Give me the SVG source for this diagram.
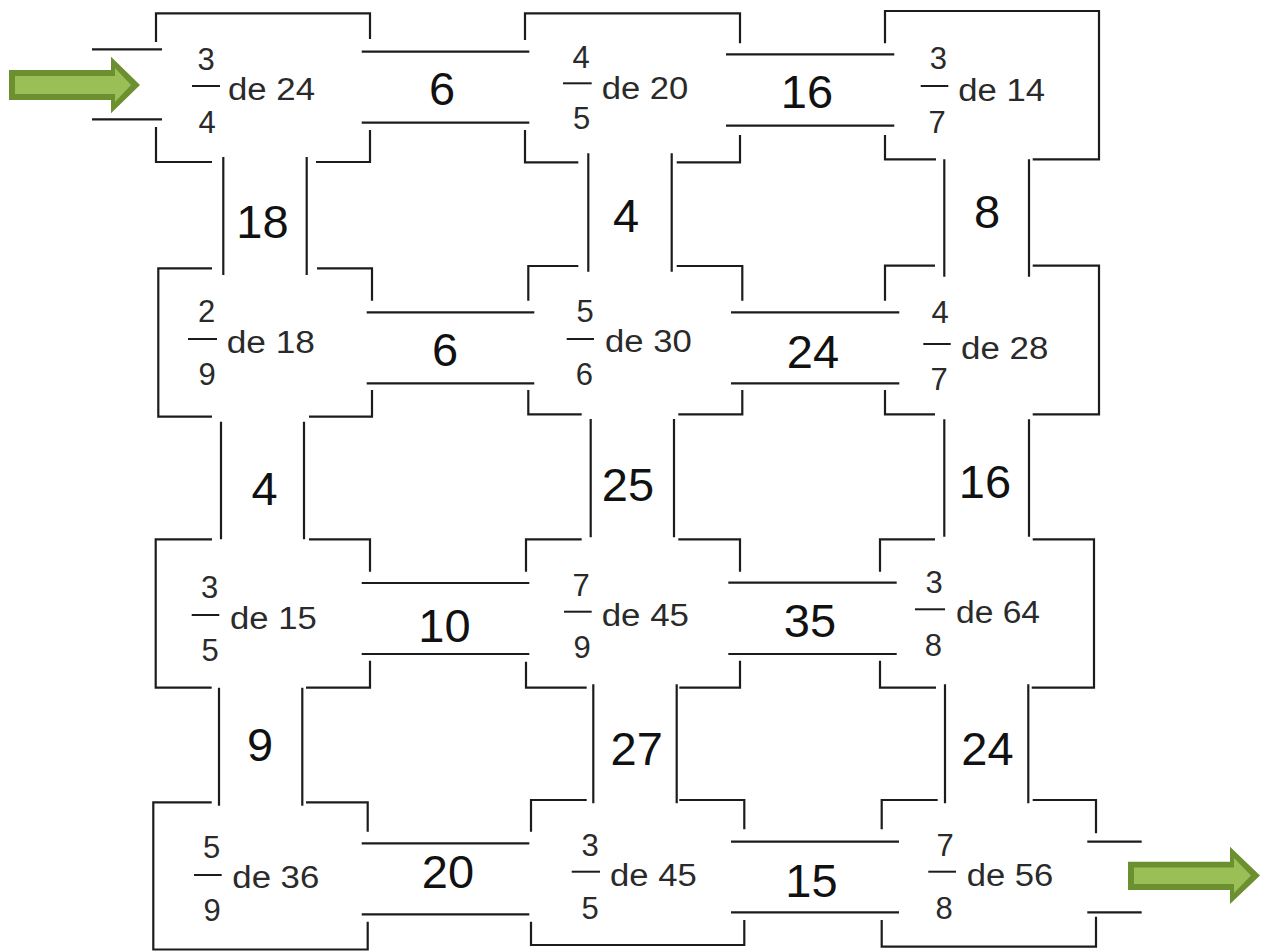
<svg xmlns="http://www.w3.org/2000/svg" width="1263" height="951" viewBox="0 0 1263 951">
<style>
.w{fill:none;stroke:#1c1c1c;stroke-width:2.2;stroke-linecap:butt;stroke-linejoin:miter}
.bar{stroke:#1c1c1c;stroke-width:2}
.n{font-family:"Liberation Sans",Arial,sans-serif;font-size:31px;fill:#2a2a2a;text-anchor:middle}
.de{font-family:"Liberation Sans",Arial,sans-serif;font-size:31px;fill:#2a2a2a}
.lbl{font-family:"Liberation Sans",Arial,sans-serif;font-size:47px;fill:#111;text-anchor:middle}
.aout{fill:#6c902f}
.ain{fill:#9bbf57}
</style>
<rect width="1263" height="951" fill="#ffffff"/>

<g id="arrow-in">
<polygon class="aout" points="9,70 111,70 111,56.7 140,85 111,113.3 111,100 9,100"/>
<polygon class="ain" points="15,76 115,76 115,68 131,85 115,102 115,94 15,94"/>
</g>
<g id="arrow-out">
<polygon class="aout" points="1128,861.7 1230,861.7 1230,846.7 1260,875.5 1230,904 1230,890 1128,890"/>
<polygon class="ain" points="1134,867.5 1234,867.5 1234,858 1251,875.5 1234,893 1234,884 1134,884"/>
</g>

<g id="room-r0c0">
<path class="w" d="M156,42 V13.3 H370 V39 M156,127 V162 H212 M316,162 H370 V130"/>
<text class="n" x="206" y="70">3</text>
<line class="bar" x1="192" y1="86" x2="220" y2="86"/>
<text class="n" x="207" y="133">4</text>
<text class="de" x="228" y="100" textLength="87" lengthAdjust="spacingAndGlyphs">de 24</text>
</g>
<g id="room-r0c1">
<path class="w" d="M525,40 V13.3 H740 V43.3 M525,130 V162.3 H578.3 M676.7,162.3 H740 V135"/>
<text class="n" x="581" y="67.5">4</text>
<line class="bar" x1="563" y1="83.3" x2="591.7" y2="83.3"/>
<text class="n" x="581.5" y="129">5</text>
<text class="de" x="601.7" y="99.3" textLength="86.6" lengthAdjust="spacingAndGlyphs">de 20</text>
</g>
<g id="room-r0c2">
<path class="w" d="M885,43.3 V11 H1099 V159.3 H1032.7 M885,135 V159.3 H936"/>
<text class="n" x="938.3" y="69">3</text>
<line class="bar" x1="920.7" y1="86" x2="948.3" y2="86"/>
<text class="n" x="937" y="132.5">7</text>
<text class="de" x="958.3" y="101" textLength="86.7" lengthAdjust="spacingAndGlyphs">de 14</text>
</g>

<g id="room-r1c0">
<path class="w" d="M212,268.3 H158.3 V416.7 H212 M317,268.3 H372 V300.7 M309,416.7 H372 V390"/>
<text class="n" x="206.5" y="322">2</text>
<line class="bar" x1="188" y1="339" x2="217" y2="339"/>
<text class="n" x="207" y="385">9</text>
<text class="de" x="226.7" y="352.7" textLength="88.3" lengthAdjust="spacingAndGlyphs">de 18</text>
</g>
<g id="room-r1c1">
<path class="w" d="M578.3,266 H528.3 V300.7 M676.7,266 H742.3 V300.7 M528.3,390 V414.3 H581.7 M678.3,414.3 H742.3 V390"/>
<text class="n" x="585" y="322">5</text>
<line class="bar" x1="566.7" y1="339" x2="594" y2="339"/>
<text class="n" x="584.3" y="385">6</text>
<text class="de" x="605" y="352.3" textLength="86.7" lengthAdjust="spacingAndGlyphs">de 30</text>
</g>
<g id="room-r1c2">
<path class="w" d="M935,265.7 H885 V300.7 M1032.7,265.7 H1099 V414.3 H1032.7 M885,390 V414.3 H935"/>
<text class="n" x="940" y="322.5">4</text>
<line class="bar" x1="923.3" y1="344" x2="950.7" y2="344"/>
<text class="n" x="939" y="390">7</text>
<text class="de" x="961" y="359" textLength="87.3" lengthAdjust="spacingAndGlyphs">de 28</text>
</g>

<g id="room-r2c0">
<path class="w" d="M212,539.3 H155.7 V687.7 H211.7 M309,539.3 H370 V571.7 M306,687.7 H370 V660.7"/>
<text class="n" x="209.7" y="598">3</text>
<line class="bar" x1="191.7" y1="615" x2="219.3" y2="615"/>
<text class="n" x="210" y="661">5</text>
<text class="de" x="230" y="629" textLength="86.7" lengthAdjust="spacingAndGlyphs">de 15</text>
</g>
<g id="room-r2c1">
<path class="w" d="M581.7,539.3 H526 V571.7 M678.3,539.3 H740 V571.7 M526,661.7 V687.7 H586.7 M679.3,687.7 H740 V660.7"/>
<text class="n" x="581" y="595.5">7</text>
<line class="bar" x1="564" y1="611.7" x2="591.7" y2="611.7"/>
<text class="n" x="582" y="657.5">9</text>
<text class="de" x="601.7" y="626" textLength="87.3" lengthAdjust="spacingAndGlyphs">de 45</text>
</g>
<g id="room-r2c2">
<path class="w" d="M935,539.3 H880 V571.7 M1032.7,539.3 H1094 V687.7 H1031.7 M880,660.7 V687.7 H936"/>
<text class="n" x="934" y="592.5">3</text>
<line class="bar" x1="915" y1="609.3" x2="945" y2="609.3"/>
<text class="n" x="933.3" y="656">8</text>
<text class="de" x="956" y="623.3" textLength="84" lengthAdjust="spacingAndGlyphs">de 64</text>
</g>

<g id="room-r3c0">
<path class="w" d="M211.7,802.3 H153.3 V949.5 H367.7 V921.7 M306,802.3 H367.7 V831.7"/>
<text class="n" x="211.7" y="858">5</text>
<line class="bar" x1="194" y1="875" x2="221.7" y2="875"/>
<text class="n" x="212" y="921">9</text>
<text class="de" x="232.3" y="888.3" textLength="87" lengthAdjust="spacingAndGlyphs">de 36</text>
</g>
<g id="room-r3c1">
<path class="w" d="M586.7,800 H531 V831.7 M679.3,800 H744.3 V829.3 M531,921.7 V945 H744.3 V920"/>
<text class="n" x="590" y="855.5">3</text>
<line class="bar" x1="571.7" y1="871.7" x2="600" y2="871.7"/>
<text class="n" x="590" y="918.5">5</text>
<text class="de" x="610" y="885.7" textLength="86.7" lengthAdjust="spacingAndGlyphs">de 45</text>
</g>
<g id="room-r3c2">
<path class="w" d="M937.7,800 H881.7 V829.3 M1032.7,800 H1096 V833.3 M881.7,920 V946.7 H1096 V916.7"/>
<text class="n" x="945" y="855.5">7</text>
<line class="bar" x1="928.3" y1="871.7" x2="956" y2="871.7"/>
<text class="n" x="944" y="919">8</text>
<text class="de" x="966.7" y="885.7" textLength="86.7" lengthAdjust="spacingAndGlyphs">de 56</text>
</g>

<g id="connectors">
<path class="w" d="
M92,49.3 H162 M92,119.3 H162
M361.7,51.7 H529.3 M361.7,122.7 H529.3
M726,54.3 H894.3 M726,125.7 H894.3
M366.7,312.3 H534.3 M366.7,383.3 H534.3
M731,312.3 H899.3 M731,383.3 H899.3
M361.7,583 H529.3 M361.7,654 H529.3
M728.3,582.7 H896.7 M728.3,654 H896.7
M361.7,843.3 H529.3 M361.7,914.3 H529.3
M731,841.7 H899 M731,912.3 H899
M1087.3,841.7 H1141.7 M1087.3,912.3 H1141.7
M223.3,157 V275 M306.7,157 V275
M588.3,153.3 V271.7 M671.7,153.3 V271.7
M944.3,159.3 V276.7 M1029,159.3 V276.7
M221,421.7 V539.3 M304,421.7 V539.3
M590.7,419 V537.3 M674,419 V537.3
M944.3,419.3 V536.7 M1029,419.3 V536.7
M219,687.7 V805.7 M302.3,687.7 V805.7
M593.3,684.3 V803.3 M676.7,684.3 V803.3
M945,684.3 V803.3 M1028.3,684.3 V803.3"/>
<text class="lbl" x="442" y="105">6</text>
<text class="lbl" x="807" y="108.3">16</text>
<text class="lbl" x="262.5" y="238">18</text>
<text class="lbl" x="626" y="231.7">4</text>
<text class="lbl" x="987" y="228.3">8</text>
<text class="lbl" x="445" y="366">6</text>
<text class="lbl" x="813" y="368.3">24</text>
<text class="lbl" x="264.5" y="505">4</text>
<text class="lbl" x="628" y="500.7">25</text>
<text class="lbl" x="985" y="498.3">16</text>
<text class="lbl" x="444.5" y="641.7">10</text>
<text class="lbl" x="810" y="636.7">35</text>
<text class="lbl" x="260" y="760.7">9</text>
<text class="lbl" x="636.7" y="765">27</text>
<text class="lbl" x="987.5" y="765">24</text>
<text class="lbl" x="448" y="888.3">20</text>
<text class="lbl" x="811.5" y="896.7">15</text>
</g>
</svg>
